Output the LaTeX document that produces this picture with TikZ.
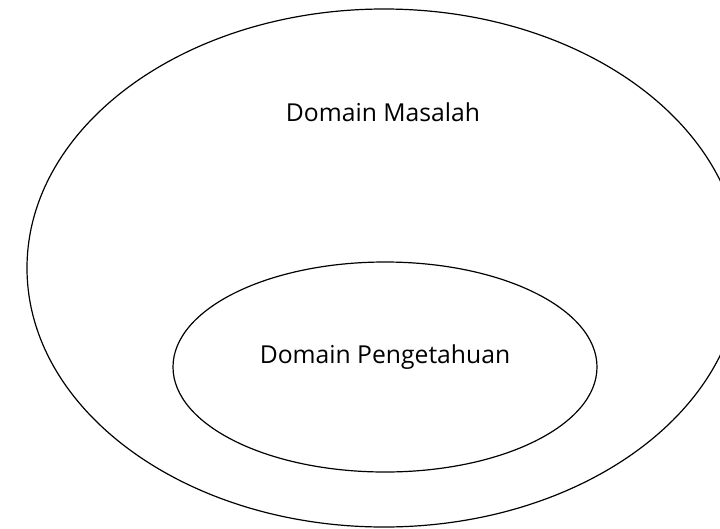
\documentclass[tikz,border=0pt]{standalone}
\usepackage{fontspec}
\setmainfont{Open Sans}
\usepackage{tikz}

\begin{document}
\begin{tikzpicture}[x=1pt, y=-1pt, line width=1.2pt]
\useasboundingbox (0, 0) rectangle (720, 528);
\clip (0, 0) rectangle (720, 528);
\draw (384, 268) ellipse (357 and 259);
\draw (385, 367) ellipse (212 and 105);
\node (masalah) at (383, 112) {\fontsize{24.7}{29}\selectfont Domain Masalah};
\node (pengetahuan) at (385, 357) {\fontsize{24.7}{29}\selectfont Domain Pengetahuan};
\end{tikzpicture}
\end{document}
